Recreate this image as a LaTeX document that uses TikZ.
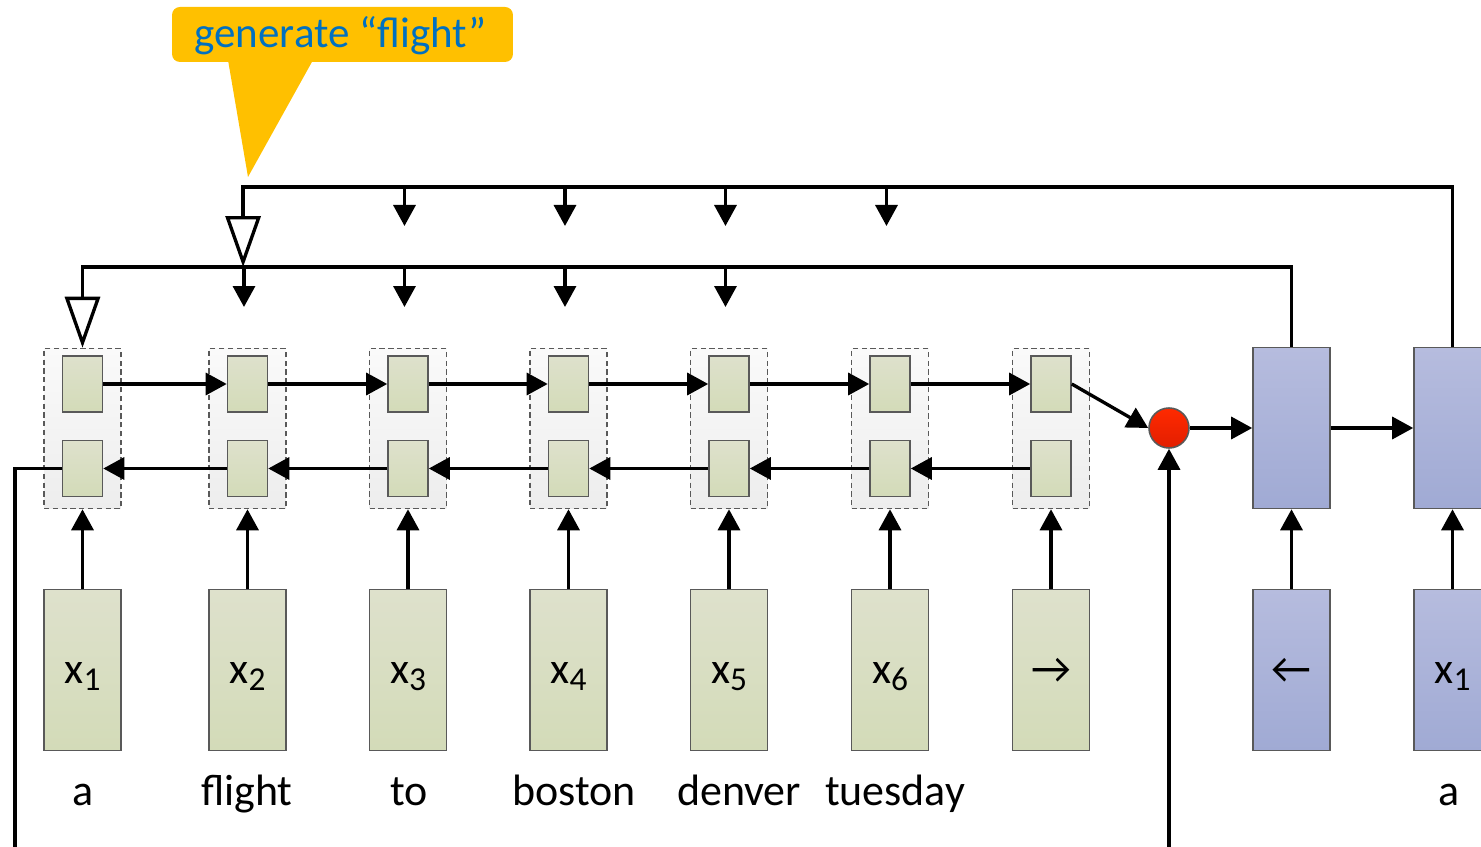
\documentclass[tikz,border=0pt]{standalone}
\usepackage{fontspec}
\setmainfont{Carlito}
\usetikzlibrary{arrows.meta,calc}
\definecolor{cellT}{RGB}{222,225,204}
\definecolor{cellB}{RGB}{211,219,184}
\definecolor{blueT}{RGB}{182,188,222}
\definecolor{blueB}{RGB}{160,170,212}
\definecolor{groupT}{RGB}{250,250,250}
\definecolor{groupB}{RGB}{237,237,237}
\definecolor{edge}{RGB}{89,89,89}
\definecolor{calloutfill}{RGB}{255,192,0}
\definecolor{callouttext}{RGB}{0,112,192}
\definecolor{redT}{RGB}{255,42,0}
\definecolor{redB}{RGB}{226,30,0}

\begin{document}
\begin{tikzpicture}[x=0.02cm,y=-0.02cm,
  cell/.style={draw=edge,line width=0.9pt,top color=cellT,bottom color=cellB,
    minimum width=0.8cm,minimum height=1.12cm,inner sep=0pt},
  group/.style={draw=edge,line width=0.9pt,dash pattern=on 3pt off 2pt,
    top color=groupT,bottom color=groupB,minimum width=1.54cm,minimum height=3.2cm,inner sep=0pt},
  inbox/.style={draw=edge,line width=0.9pt,top color=cellT,bottom color=cellB,
    minimum width=1.54cm,minimum height=3.22cm,inner sep=0pt,
    text height=15pt,text depth=0pt,font=\fontsize{25}{30}\selectfont},
  decbox/.style={inbox,top color=blueT,bottom color=blueB},
  word/.style={anchor=base,inner sep=0pt,font=\fontsize{25}{30}\selectfont},
  link/.style={line width=1.9pt,-{Triangle[length=0.42cm,width=0.44cm]}},
  plain/.style={line width=1.9pt},
  feed/.style={line width=1.9pt,-{Triangle[open,length=1.02cm,width=0.7cm,line width=1.9pt]}},
  joint/.style={circle,draw=edge,line width=0.9pt,top color=redT,bottom color=redB,
    minimum size=0.8cm,inner sep=0pt},
]
\useasboundingbox (0,0) rectangle (1481,847);
\clip (0,0) rectangle (1481,847);

% callout
\fill[calloutfill] (228,60) -- (248,177) -- (313,60) -- cycle;
\node[fill=calloutfill,rounded corners=4.5pt,minimum width=6.82cm,minimum height=1.1cm,inner sep=0pt]
  (call) at (342.5,34.5) {};
\node[word,text=callouttext,font=\fontsize{24.5}{29}\selectfont] (calltxt) at (340.5,48) {generate “flight”};

% encoder columns
\foreach \i/\x in {1/82.5,2/247.5,3/408,4/568.5,5/729,6/890,7/1051}{
  \node[group] (g\i) at (\x,428.5) {};
  \node[cell] (f\i) at (\x,384) {};
  \node[cell] (b\i) at (\x,468.5) {};
}
\foreach \i/\x in {1/82.5,2/247.5,3/408,4/568.5,5/729,6/890}{
  \node[inbox] (x\i) at (\x,670) {x\raisebox{-4pt}{\fontsize{19}{19}\selectfont \i}};
}
\node[inbox] (x7) at (1051,670) {→};

% words
\node[word] (w1) at (83,805) {a};
\node[word] (w2) at (247,805) {flight};
\node[word] (w3) at (409,805) {to};
\node[word] (w4) at (574,805) {boston};
\node[word] (w5) at (739,805) {denver};
\node[word] (w6) at (895,805) {tuesday};

% decoder
\node[joint] (c) at (1169,428) {};
\node[decbox] (d1) at (1291.5,428) {};
\node[decbox] (d2) at (1452.5,428) {};
\node[decbox] (e1) at (1291.5,670) {←};
\node[decbox] (e2) at (1452.5,670) {x\raisebox{-4pt}{\fontsize{19}{19}\selectfont 1}};
\node[word] (w7) at (1449,805) {a};

% recurrent connections
\foreach \i [evaluate=\i as \j using int(\i+1)] in {1,...,6}{
  \draw[link] (f\i.east) -- (f\j.west);
  \draw[link] (b\j.west) -- (b\i.east);
}
\foreach \i in {1,...,7}{
  \draw[link] (x\i.north) -- (g\i.south);
}
\draw[link] (f7.east) -- (c.west);
\draw[link] (c.east) -- (d1.west);
\draw[link] (d1.east) -- (d2.west);
\draw[link] (e1.north) -- (d1.south);
\draw[link] (e2.north) -- (d2.south);

% outer wiring
\coordinate (leftfoot) at (15,847);
\coordinate (jointfoot) at (1169,847);
\draw[plain] (b1.west) -| (leftfoot);
\draw[link] (jointfoot) -- (c.south);

% attention feedback lines
\coordinate (r1) at (0,267);
\coordinate (r2) at (0,187);
\draw[feed] (d1.north) |- (g1.north |- r1) -- (g1.north);
\draw[feed] (d2.north) |- ([xshift=-2.5]g2.north |- r2) -- ([xshift=-2.5]g2.north |- r1);
\foreach \i in {2,...,5}{
  \draw[link] ([xshift=-2]g\i.north |- r1) -- ++(0,40);
}
\foreach \i in {3,...,6}{
  \draw[link] ([xshift=-2]g\i.north |- r2) -- ++(0,39);
}
\end{tikzpicture}
\end{document}
